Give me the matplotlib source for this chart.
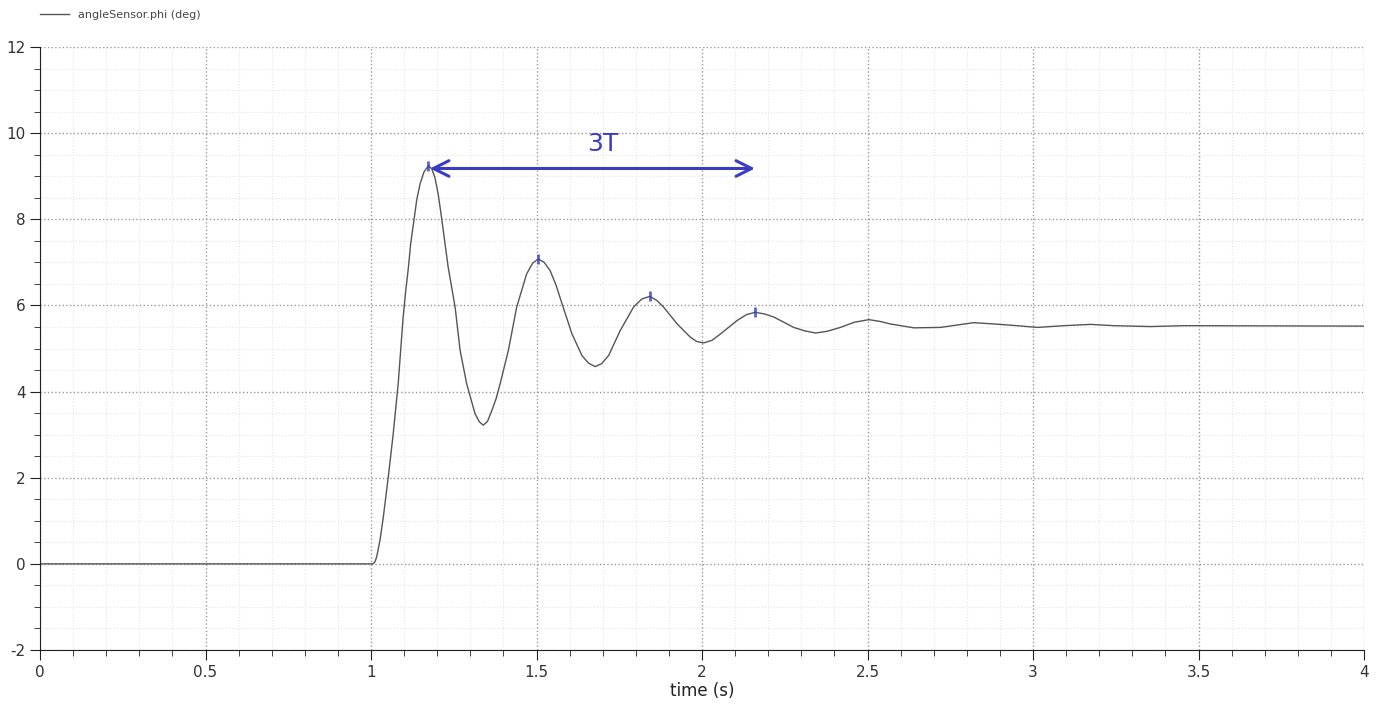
import matplotlib.pyplot as plt
from matplotlib.ticker import MultipleLocator

plt.rcParams['axes.unicode_minus'] = False

# angleSensor.phi
t = [0.0, 1.006, 1.012, 1.017, 1.027, 1.037, 1.052, 1.067, 1.082, 1.097, 1.105,
     1.113, 1.120, 1.128, 1.138, 1.148, 1.160, 1.173, 1.183, 1.193, 1.203,
     1.213, 1.233, 1.254, 1.269, 1.289, 1.314, 1.327, 1.339, 1.352, 1.365,
     1.378, 1.390, 1.415, 1.440, 1.470, 1.488, 1.505, 1.523, 1.541, 1.559,
     1.577, 1.607, 1.637, 1.657, 1.677, 1.697, 1.718, 1.753, 1.793, 1.818,
     1.842, 1.863, 1.884, 1.925, 1.965, 1.985, 2.005, 2.030, 2.056, 2.106,
     2.135, 2.161, 2.190, 2.217, 2.277, 2.310, 2.343, 2.378, 2.418, 2.460,
     2.504, 2.537, 2.569, 2.640, 2.720, 2.821, 2.882, 2.952, 3.013, 3.093,
     3.174, 3.244, 3.355, 3.456, 4.0]
phi = [0.0, 0.0, 0.05, 0.16, 0.55, 1.08, 2.01, 3.02, 4.18, 5.73, 6.35,
       6.89, 7.45, 7.89, 8.45, 8.82, 9.10, 9.24, 9.18, 8.97, 8.58,
       8.04, 6.89, 5.96, 4.96, 4.18, 3.49, 3.30, 3.22, 3.31, 3.56,
       3.84, 4.18, 4.96, 5.96, 6.73, 6.98, 7.08, 7.00, 6.81, 6.47,
       6.04, 5.34, 4.84, 4.66, 4.58, 4.65, 4.84, 5.42, 5.96, 6.15,
       6.21, 6.12, 5.96, 5.57, 5.26, 5.16, 5.13, 5.19, 5.34, 5.65,
       5.79, 5.84, 5.80, 5.73, 5.49, 5.41, 5.36, 5.40, 5.49, 5.61,
       5.67, 5.63, 5.57, 5.48, 5.49, 5.60, 5.57, 5.53, 5.49, 5.53,
       5.56, 5.53, 5.51, 5.53, 5.52]

x_ticks = [0, 0.5, 1, 1.5, 2, 2.5, 3, 3.5, 4]
x_labels = ['0', '0.5', '1', '1.5', '2', '2.5', '3', '3.5', '4']
y_ticks = [-2, 0, 2, 4, 6, 8, 10, 12]

# hand-drawn marks on the printout
peak_t = [1.173, 1.505, 1.842, 2.161]
peak_v = [9.24, 7.08, 6.21, 5.84]
arrow_start = 1.178
arrow_end = 2.16
arrow_y = 9.18

fig = plt.figure(figsize=(13.76, 7.04), dpi=100)
ax = fig.add_axes([0.0291, 0.0767, 0.9622, 0.8565])

line, = ax.plot(t, phi, color='#555555', lw=1.0, label='angleSensor.phi (deg)')

ax.set_xlim(0, 4)
ax.set_ylim(-2, 12)
ax.set_xticks(x_ticks, x_labels)
ax.set_yticks(y_ticks)
ax.xaxis.set_minor_locator(MultipleLocator(0.1))
ax.yaxis.set_minor_locator(MultipleLocator(0.5))

ax.grid(which='major', color='#999999', ls=':', lw=1.0)
ax.grid(which='minor', color='#e6e6e6', ls=':', lw=0.8)
ax.spines['top'].set_visible(False)
ax.spines['right'].set_visible(False)
ax.spines['left'].set_color('#222222')
ax.spines['bottom'].set_color('#222222')
ax.tick_params(which='major', length=7, color='#222222', labelsize=11, labelcolor='#333333')
ax.tick_params(which='minor', length=4, color='#222222')
ax.set_xlabel('time (s)', fontsize=12, color='#222222', labelpad=2)

# legend above the plot area
fig.legend(handles=[line], loc='upper left', bbox_to_anchor=(0.022, 1.0),
           frameon=False, fontsize=8, handlelength=2.6, labelcolor='#444444')

# blue pen annotation
pen = '#3b3bc4'
ax.annotate('', xy=(arrow_start, arrow_y), xytext=(arrow_end, arrow_y),
            arrowprops=dict(arrowstyle='<->', color=pen, lw=2.2,
                            mutation_scale=28, shrinkA=0, shrinkB=0))
ax.text((arrow_start + arrow_end) / 2 + 0.03, arrow_y + 0.3, '3T', color=pen,
        fontsize=18, ha='center', va='bottom')
ax.plot(peak_t, peak_v, ls='none', marker='|', ms=7, mew=2, color=pen, alpha=0.8)

fig.savefig('out.png', dpi=100)
